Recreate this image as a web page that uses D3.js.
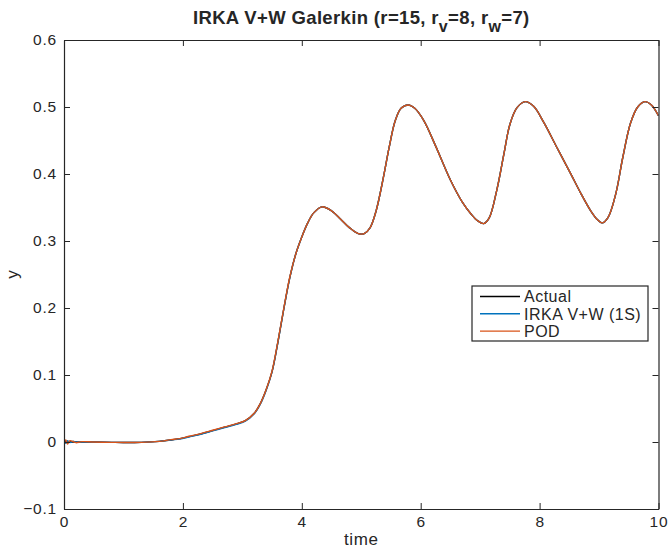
<!DOCTYPE html>
<meta charset="utf-8">
<style>
body { margin: 0; background: #fff; }
text { font-family: "Liberation Sans", Arial, sans-serif; fill: #262626; }
.line { fill: none; stroke-width: 1.4px; }
</style>
<body>
<script src="https://d3js.org/d3.v7.min.js"></script>
<script>

// time samples
var time = [0, 0.03, 0.06, 0.1, 0.15, 0.2, 0.3, 0.5, 0.8, 1.0, 1.3, 1.6, 1.8, 1.95, 2.1, 2.3, 2.5, 2.7, 2.9, 3.05,
  3.2, 3.3, 3.4, 3.5, 3.6, 3.7, 3.8, 3.9, 4.0, 4.1, 4.2, 4.34, 4.5, 4.65, 4.8, 4.95, 5.05, 5.15, 5.25, 5.375,
  5.47, 5.57, 5.67, 5.79, 5.9, 6.05, 6.25, 6.5, 6.7, 6.85, 6.96, 7.06, 7.15, 7.28, 7.4, 7.5, 7.62, 7.76, 7.9,
  8.07, 8.3, 8.52, 8.7, 8.86, 8.97, 9.05, 9.15, 9.28, 9.4, 9.53, 9.65, 9.77, 9.88, 10.0];

var actual = [0, 0.001, 0, 0, 0, 0, 0, 0, -0.0005, -0.0008, -0.0005, 0.001, 0.003, 0.005, 0.008, 0.012, 0.017, 0.022, 0.027, 0.032,
  0.043, 0.057, 0.078, 0.105, 0.150, 0.200, 0.246, 0.281, 0.306, 0.327, 0.342, 0.351, 0.345, 0.333, 0.320, 0.311, 0.311, 0.320, 0.345, 0.396,
  0.440, 0.479, 0.498, 0.503, 0.498, 0.480, 0.442, 0.391, 0.358, 0.340, 0.330, 0.326, 0.334, 0.376, 0.430, 0.474, 0.499, 0.508, 0.501,
  0.477, 0.438, 0.401, 0.370, 0.345, 0.332, 0.327, 0.335, 0.370, 0.425, 0.476, 0.500, 0.508, 0.503, 0.487];

var irka = [0.003, -0.002, 0.002, -0.001, 0.001, 0, 0, 0, -0.0005, -0.0008, -0.0005, 0.001, 0.003, 0.0045, 0.0075, 0.0115, 0.0165, 0.0215, 0.0265, 0.031,
  0.042, 0.056, 0.077, 0.105, 0.150, 0.200, 0.246, 0.281, 0.306, 0.327, 0.342, 0.351, 0.345, 0.333, 0.320, 0.311, 0.311, 0.320, 0.345, 0.396,
  0.440, 0.479, 0.498, 0.503, 0.498, 0.480, 0.442, 0.391, 0.358, 0.340, 0.330, 0.326, 0.334, 0.376, 0.430, 0.474, 0.499, 0.508, 0.501,
  0.477, 0.438, 0.401, 0.370, 0.345, 0.332, 0.327, 0.335, 0.370, 0.425, 0.476, 0.500, 0.508, 0.503, 0.487];

var pod = [-0.002, 0.003, -0.003, 0.002, 0.001, -0.001, 0.0005, 0, -0.0005, -0.0008, -0.0005, 0.001, 0.0035, 0.005, 0.0085, 0.0125, 0.0175, 0.0225, 0.0275, 0.032,
  0.043, 0.057, 0.078, 0.106, 0.151, 0.201, 0.247, 0.281, 0.306, 0.327, 0.342, 0.351, 0.345, 0.333, 0.320, 0.311, 0.311, 0.320, 0.345, 0.396,
  0.440, 0.479, 0.498, 0.503, 0.498, 0.480, 0.442, 0.391, 0.358, 0.340, 0.330, 0.326, 0.334, 0.376, 0.430, 0.474, 0.499, 0.508, 0.501,
  0.477, 0.438, 0.401, 0.370, 0.345, 0.332, 0.327, 0.335, 0.370, 0.425, 0.476, 0.500, 0.508, 0.503, 0.487];

var seriesNames = ["Actual", "IRKA V+W (1S)", "POD"];
var seriesColors = ["#000000", "#0072BD", "#D95319"];
var xTicks = [0, 2, 4, 6, 8, 10];
var yTicks = [-0.1, 0, 0.1, 0.2, 0.3, 0.4, 0.5, 0.6];

// plot box
var margin = {top: 40, right: 11.5, bottom: 42, left: 64},
    width = 670 - margin.left - margin.right,
    height = 551 - margin.top - margin.bottom;

var x = d3.scaleLinear().domain([0, 10]).range([0, width]);
var y = d3.scaleLinear().domain([-0.1, 0.6]).range([height, 0]);

var svg = d3.select("body").append("svg")
    .attr("width", 670)
    .attr("height", 551);

var g = svg.append("g")
    .attr("transform", "translate(" + margin.left + "," + margin.top + ")");

// the lines
var all = [actual, irka, pod];
var valueline = d3.line()
    .x(function(d, i) { return x(time[i]); })
    .y(function(d) { return y(d); })
    .curve(d3.curveCatmullRom);

g.append("defs").append("clipPath").attr("id", "clip")
  .append("rect").attr("width", width).attr("height", height);

g.selectAll(".line")
    .data(all)
  .enter().append("path")
    .attr("class", "line")
    .attr("clip-path", "url(#clip)")
    .attr("stroke", function(d, i) { return seriesColors[i]; })
    .attr("d", valueline);

// axes, MATLAB style (ticks inside, box on)
var fmt = function(d) { return d3.format("")(+d.toFixed(1)); };
var axisStyle = function(sel) {
  sel.selectAll("path").attr("stroke", "#262626").attr("stroke-width", 1.2);
  sel.selectAll("line").attr("stroke", "#262626").attr("stroke-width", 1);
  sel.selectAll("text").attr("font-size", 15.5).attr("letter-spacing", 0.8)
    .style("font-family", "Liberation Sans, Arial, sans-serif").attr("fill", "#262626");
};

g.append("g")
    .attr("transform", "translate(0," + height + ")")
    .call(d3.axisBottom(x).tickValues(xTicks).tickSizeInner(-6).tickSizeOuter(0).tickPadding(7))
    .call(axisStyle);

g.append("g")
    .call(d3.axisTop(x).tickValues(xTicks).tickSizeInner(-6).tickSizeOuter(0).tickFormat(""))
    .call(axisStyle);

g.append("g")
    .call(d3.axisLeft(y).tickValues(yTicks).tickSizeInner(-6).tickSizeOuter(0).tickPadding(7).tickFormat(fmt))
    .call(axisStyle);

g.append("g")
    .attr("transform", "translate(" + width + ",0)")
    .call(d3.axisRight(y).tickValues(yTicks).tickSizeInner(-6).tickSizeOuter(0).tickFormat(""))
    .call(axisStyle);

// labels
svg.append("text")
    .attr("x", margin.left + width / 2)
    .attr("y", 545)
    .attr("text-anchor", "middle")
    .attr("font-size", 17)
    .attr("letter-spacing", 0.6)
    .text("time");

svg.append("text")
    .attr("transform", "translate(18," + (margin.top + height / 2) + ") rotate(-90)")
    .attr("text-anchor", "middle")
    .attr("font-size", 17)
    .text("y");

var title = svg.append("text")
    .attr("x", margin.left + width / 2)
    .attr("y", 23.5)
    .attr("text-anchor", "middle")
    .attr("font-size", 18.5)
    .attr("letter-spacing", 0.35)
    .attr("font-weight", "bold")
    .attr("fill", "#000");
title.append("tspan").text("IRKA V+W Galerkin (r=15, r");
title.append("tspan").attr("font-size", 16).attr("dy", 8).text("v");
title.append("tspan").attr("dy", -8).text("=8, r");
title.append("tspan").attr("font-size", 16).attr("dy", 8).text("w");
title.append("tspan").attr("dy", -8).text("=7)");

// legend
var lx = 472, ly = 286, lw = 176, lh = 55;
var legend = svg.append("g");
legend.append("rect")
    .attr("x", lx).attr("y", ly).attr("width", lw).attr("height", lh)
    .attr("fill", "#fff").attr("stroke", "#262626").attr("stroke-width", 1.2);

seriesNames.forEach(function(name, i) {
  var yy = ly + 10.5 + i * 17.3;
  legend.append("line")
      .attr("x1", lx + 8).attr("x2", lx + 48)
      .attr("y1", yy).attr("y2", yy)
      .attr("stroke", seriesColors[i]).attr("stroke-width", 1.4);
  legend.append("text")
      .attr("x", lx + 52).attr("y", yy + 5.8)
      .attr("font-size", 16)
      .attr("letter-spacing", 0.5)
      .attr("fill", "#000")
      .text(name);
});

</script>
</body>
